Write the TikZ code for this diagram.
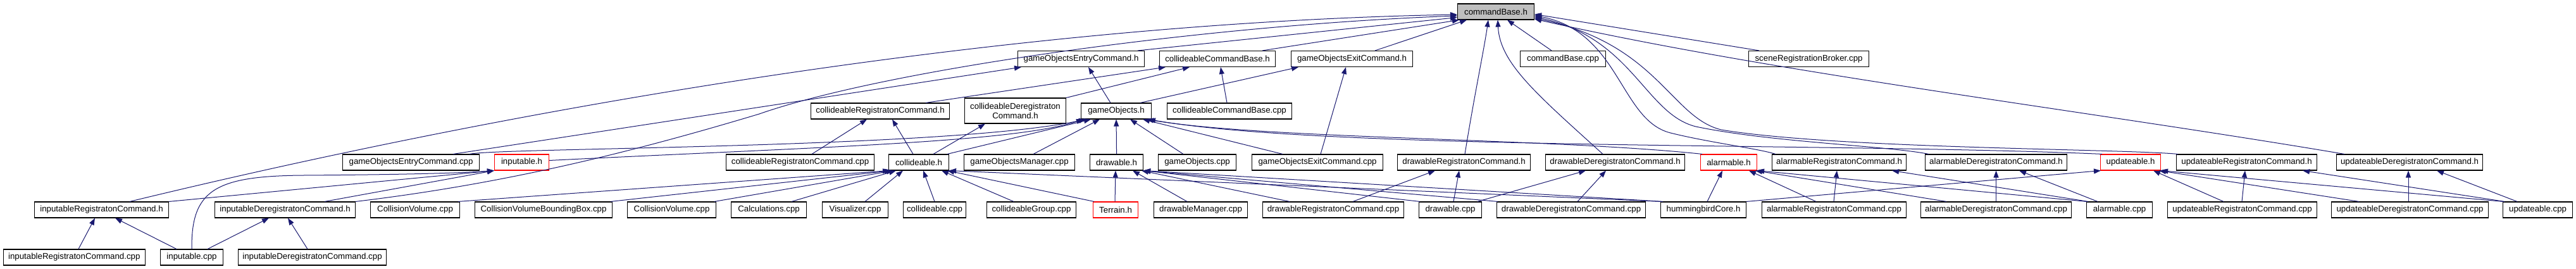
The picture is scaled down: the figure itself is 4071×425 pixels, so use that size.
\documentclass[tikz,border=0pt]{standalone}
\usepackage{fontspec}
\setmainfont{Liberation Sans}
\usetikzlibrary{arrows.meta}
\definecolor{edgeblue}{HTML}{191970}
\definecolor{basegrey}{HTML}{BFBFBF}
\newcommand\bx[6]{\node[#5,minimum width=#3pt,anchor=west] (#1) at (#2,#4) {#6};}
\begin{document}
\begin{tikzpicture}[x=1pt,y=-1pt,
  box/.style={draw=black,line width=1.1pt,fill=white,minimum height=25pt,inner sep=0pt,font=\fontsize{13.3}{15}\selectfont},
  redbox/.style={box,draw=red},
  basebox/.style={box,fill=basegrey},
  dep/.style={draw=edgeblue,line width=1pt,-{Triangle[length=11pt,width=8pt]}}]
\useasboundingbox[fill=white] (0,0) rectangle (4071,425);
% row 1
\bx{cb}{2303}{121}{18.5}{basebox}{commandBase.h}
% row 2
\bx{goEnH}{1608}{200}{93}{box}{gameObjectsEntryCommand.h}
\bx{ccbH}{1832}{183}{93}{box}{collideableCommandBase.h}
\bx{goExH}{2040}{192}{93}{box}{gameObjectsExitCommand.h}
\bx{cbCpp}{2402}{135}{93}{box}{commandBase.cpp}
\bx{srb}{2763}{190}{93}{box}{sceneRegistrationBroker.cpp}
% row 3
\bx{crcH}{1281}{219}{175.5}{box}{collideableRegistratonCommand.h}
\bx{cdcH}{1524}{160}{175}{box,minimum height=40pt,align=center}{collideableDeregistraton\\Command.h}
\bx{goH}{1708}{111}{175.5}{box}{gameObjects.h}
\bx{ccbCpp}{1844}{197}{175.5}{box}{collideableCommandBase.cpp}
% row 4
\bx{goEnCpp}{541}{216}{256.5}{box}{gameObjectsEntryCommand.cpp}
\bx{inpH}{781}{86}{256.5}{redbox}{inputable.h}
\bx{crcCpp}{1147}{234}{256.5}{box}{collideableRegistratonCommand.cpp}
\bx{colH}{1404}{95}{256.5}{box}{collideable.h}
\bx{gomCpp}{1523}{175}{256.5}{box}{gameObjectsManager.cpp}
\bx{drwH}{1722}{84}{256.5}{box}{drawable.h}
\bx{goCpp}{1830}{123}{256.5}{box}{gameObjects.cpp}
\bx{goExCpp}{1978}{207}{256.5}{box}{gameObjectsExitCommand.cpp}
\bx{drcH}{2208}{210}{256.5}{box}{drawableRegistratonCommand.h}
\bx{ddcH}{2442}{220}{256.5}{box}{drawableDeregistratonCommand.h}
\bx{alH}{2687}{89}{256.5}{redbox}{alarmable.h}
\bx{arcH}{2800}{212}{256.5}{box}{alarmableRegistratonCommand.h}
\bx{adcH}{3042}{224}{256.5}{box}{alarmableDeregistratonCommand.h}
\bx{upH}{3319}{95}{256.5}{redbox}{updateable.h}
\bx{urcH}{3439}{222}{256.5}{box}{updateableRegistratonCommand.h}
\bx{udcH}{3692}{231}{256.5}{box}{updateableDeregistratonCommand.h}
% row 5
\bx{irH}{54}{212}{331.5}{box}{inputableRegistratonCommand.h}
\bx{idH}{339}{222}{331.5}{box}{inputableDeregistratonCommand.h}
\bx{cv1}{585}{141}{331.5}{box}{CollisionVolume.cpp}
\bx{cvbb}{750}{217}{331.5}{box}{CollisionVolumeBoundingBox.cpp}
\bx{cv2}{991}{140}{331.5}{box}{CollisionVolume.cpp}
\bx{calc}{1155}{119}{331.5}{box}{Calculations.cpp}
\bx{vis}{1299}{104}{331.5}{box}{Visualizer.cpp}
\bx{colCpp}{1427}{99}{331.5}{box}{collideable.cpp}
\bx{cgCpp}{1559}{141}{331.5}{box}{collideableGroup.cpp}
\bx{terr}{1727}{71}{331.5}{redbox}{Terrain.h}
\bx{dmCpp}{1823}{148}{331.5}{box}{drawableManager.cpp}
\bx{drcCpp}{1995}{223}{331.5}{box}{drawableRegistratonCommand.cpp}
\bx{drwCpp}{2242}{99}{331.5}{box}{drawable.cpp}
\bx{ddcCpp}{2365}{235}{331.5}{box}{drawableDeregistratonCommand.cpp}
\bx{hbc}{2624}{135}{331.5}{box}{hummingbirdCore.h}
\bx{arcCpp}{2784}{228}{331.5}{box}{alarmableRegistratonCommand.cpp}
\bx{adcCpp}{3035}{238}{331.5}{box}{alarmableDeregistratonCommand.cpp}
\bx{alCpp}{3297}{104}{331.5}{box}{alarmable.cpp}
\bx{urcCpp}{3425}{236}{331.5}{box}{updateableRegistratonCommand.cpp}
\bx{udcCpp}{3684}{248}{331.5}{box}{updateableDeregistratonCommand.cpp}
\bx{upCpp}{3955}{110}{331.5}{box}{updateable.cpp}
% row 6
\bx{irCpp}{4.5}{224.5}{406.5}{box}{inputableRegistratonCommand.cpp}
\bx{inpCpp}{253}{99}{406.5}{box}{inputable.cpp}
\bx{idCpp}{376}{234}{406.5}{box}{inputableDeregistratonCommand.cpp}

% into commandBase.h
\draw[dep] ([xshift=151pt]irH.north west) .. controls (900,150) and (1650,35) .. ([yshift=-4.5pt]cb.west);
\draw[dep] (idH.north east) .. controls (800,290) and (1000,240) .. (1200,180) .. controls (1400,110) and (1900,40) .. ([yshift=-6.5pt]cb.west);
\draw[dep] ([xshift=190pt]goEnH.north west) -- ([yshift=-9pt]cb.west);
\draw[dep] ([xshift=163pt]ccbH.north west) -- ([xshift=3pt]cb.south west);
\draw[dep] ([xshift=133pt]goExH.north west) -- ([xshift=15pt]cb.south west);
\draw[dep] ([xshift=50pt]cbCpp.north west) -- ([xshift=79pt]cb.south west);
\draw[dep] ([xshift=17pt]srb.north west) -- ([yshift=-4pt]cb.east);
\draw[dep] ([xshift=107pt]drcH.north west) .. controls (2330,150) and (2345,80) .. ([xshift=49pt]cb.south west);
\draw[dep] ([xshift=91pt]ddcH.north west) .. controls (2430,150) and (2370,100) .. ([xshift=64pt]cb.south west);
\draw[dep] ([xshift=6pt]arcH.north west) .. controls (2780,235) and (2700,225) .. (2640,210) .. controls (2560,190) and (2560,50) .. ([yshift=-6pt]cb.east);
\draw[dep] ([xshift=6pt]adcH.north west) .. controls (2980,230) and (2800,225) .. (2680,200) .. controls (2600,180) and (2580,60) .. ([yshift=-8pt]cb.east);
\draw[dep] ([xshift=3pt]urcH.north west) .. controls (3350,235) and (2900,235) .. (2720,205) .. controls (2640,185) and (2620,70) .. ([yshift=-10pt]cb.east);
\draw[dep] ([xshift=13pt]udcH.north west) .. controls (3300,175) and (2800,115) .. ([yshift=-11.5pt]cb.east);

% row 2/3 headers
\draw[dep] ([xshift=47pt]goH.north west) -- ([xshift=112pt]goEnH.south west);
\draw[dep] ([xshift=175pt]goEnCpp.north west) -- ([xshift=6pt]goEnH.south west);
\draw[dep] ([xshift=94pt]goH.north west) -- ([xshift=12pt]goExH.south west);
\draw[dep] ([xshift=109pt]goExCpp.north west) -- ([xshift=87pt]goExH.south west);
\draw[dep] ([xshift=182pt]crcH.north west) -- ([xshift=10pt]ccbH.south west);
\draw[dep] (cdcH.north east) -- ([xshift=48pt]ccbH.south west);
\draw[dep] ([xshift=95pt]ccbCpp.north west) -- ([xshift=97pt]ccbH.south west);
\draw[dep] ([xshift=136pt]crcCpp.north west) -- ([xshift=89pt]crcH.south west);
\draw[dep] ([xshift=39pt]colH.north west) -- ([xshift=129pt]crcH.south west);
\draw[dep] ([xshift=71pt]colH.north west) -- ([xshift=33pt]cdcH.south west);

% gameObjects.h
\draw[dep] ([xshift=93pt]colH.north west) -- ([xshift=16pt]goH.south west);
\draw[dep] ([xshift=110pt]gomCpp.north west) -- ([xshift=30pt]goH.south west);
\draw[dep] (drwH.north) -- (goH.south);
\draw[dep] ([xshift=40pt]goCpp.north west) -- ([xshift=78pt]goH.south west);
\draw[dep] ([xshift=49pt]goExCpp.north west) -- ([xshift=98pt]goH.south west);
\draw[dep] ([yshift=3pt]inpH.east) .. controls (1300,232) and (1600,225) .. ([xshift=4pt]goH.south west);
\draw[dep] ([xshift=201pt]goEnCpp.north west) .. controls (790,233) and (1500,235) .. ([xshift=8pt]goH.south west);
\draw[dep] ([xshift=3pt]alH.north west) .. controls (2450,218) and (2000,220) .. ([xshift=104pt]goH.south west);
\draw[dep] ([xshift=3pt]upH.north west) .. controls (2900,225) and (2100,238) .. ([xshift=107pt]goH.south west);

% collideable.h
\draw[dep] ([xshift=139pt]cv1.north west) -- ([xshift=2pt]colH.south west);
\draw[dep] ([xshift=215pt]cvbb.north west) -- ([xshift=5pt]colH.south west);
\draw[dep] ([xshift=138pt]cv2.north west) -- ([xshift=8pt]colH.south west);
\draw[dep] ([xshift=96pt]calc.north west) -- ([xshift=12pt]colH.south west);
\draw[dep] ([xshift=68pt]vis.north west) -- ([xshift=23pt]colH.south west);
\draw[dep] ([xshift=50pt]colCpp.north west) -- ([xshift=55pt]colH.south west);
\draw[dep] ([xshift=43pt]cgCpp.north west) -- ([xshift=84pt]colH.south west);
\draw[dep] ([xshift=2pt]terr.north west) -- ([xshift=93pt]colH.south west);
\draw[dep] ([xshift=2pt]hbc.north west) -- (colH.south east);

% drawable.h
\draw[dep] ([xshift=35pt]terr.north west) -- ([xshift=41pt]drwH.south west);
\draw[dep] ([xshift=53pt]dmCpp.north west) -- ([xshift=68pt]drwH.south west);
\draw[dep] ([xshift=43pt]drcCpp.north west) -- ([xshift=82pt]drwH.south west);
\draw[dep] ([xshift=2pt]drwCpp.north west) -- (drwH.south east);
\draw[dep] ([xshift=2pt]ddcCpp.north west) -- (drwH.south east);
\draw[dep] ([xshift=4pt]hbc.north west) -- (drwH.south east);
\draw[dep] ([xshift=143pt]drcCpp.north west) -- ([xshift=60pt]drcH.south west);
\draw[dep] ([xshift=55pt]drwCpp.north west) -- ([xshift=98pt]drcH.south west);
\draw[dep] ([xshift=93pt]drwCpp.north west) -- ([xshift=64pt]ddcH.south west);
\draw[dep] ([xshift=128pt]ddcCpp.north west) -- ([xshift=96pt]ddcH.south west);

% alarmable
\draw[dep] ([xshift=74pt]hbc.north west) -- ([xshift=35pt]alH.south west);
\draw[dep] ([xshift=86pt]arcCpp.north west) -- ([xshift=77pt]alH.south west);
\draw[dep] ([xshift=41pt]adcCpp.north west) -- ([xshift=87pt]alH.south west);
\draw[dep] ([xshift=1pt]alCpp.north west) -- (alH.south east);
\draw[dep] ([xshift=114pt]arcCpp.north west) -- ([xshift=103pt]arcH.south west);
\draw[dep] ([xshift=3pt]alCpp.north west) -- ([xshift=190pt]arcH.south west);
\draw[dep] (adcCpp.north) -- (adcH.south);
\draw[dep] ([xshift=18pt]alCpp.north west) -- ([xshift=149pt]adcH.south west);

% updateable
\draw[dep] (hbc.north east) -- ([xshift=1pt]upH.south west);
\draw[dep] ([xshift=89pt]urcCpp.north west) -- ([xshift=84pt]upH.south west);
\draw[dep] ([xshift=44pt]udcCpp.north west) -- ([xshift=93pt]upH.south west);
\draw[dep] ([xshift=1pt]upCpp.north west) -- (upH.south east);
\draw[dep] ([xshift=118pt]urcCpp.north west) -- ([xshift=109pt]urcH.south west);
\draw[dep] ([xshift=3pt]upCpp.north west) -- ([xshift=200pt]urcH.south west);
\draw[dep] ([xshift=122pt]udcCpp.north west) -- ([xshift=114pt]udcH.south west);
\draw[dep] ([xshift=23pt]upCpp.north west) -- ([xshift=159pt]udcH.south west);

% inputable
\draw[dep] (irH.north east) -- (inpH.south west);
\draw[dep] ([xshift=174pt]idH.north west) -- (inpH.south west);
\draw[dep] (inpCpp.north) .. controls (302,300) and (340,278) .. (480,277) .. controls (620,276) and (720,274) .. (inpH.south west);
\draw[dep] ([xshift=119.5pt]irCpp.north west) -- ([xshift=96pt]irH.south west);
\draw[dep] ([xshift=26pt]inpCpp.north west) -- ([xshift=128pt]irH.south west);
\draw[dep] ([xshift=75pt]inpCpp.north west) -- ([xshift=86pt]idH.south west);
\draw[dep] ([xshift=110pt]idCpp.north west) -- ([xshift=116pt]idH.south west);
\end{tikzpicture}
\end{document}
